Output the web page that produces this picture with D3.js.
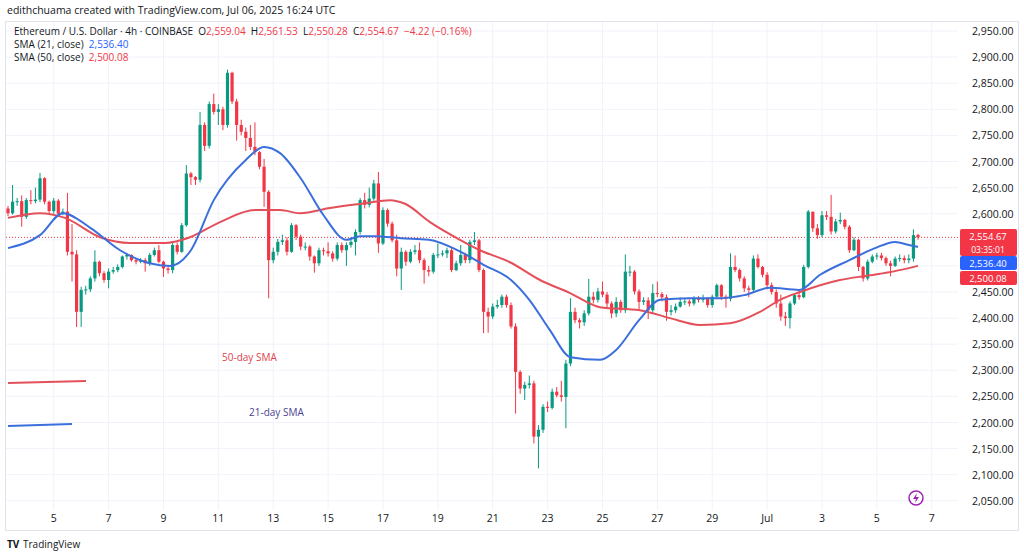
<!DOCTYPE html>
<html><head><meta charset="utf-8">
<script src="https://cdn.jsdelivr.net/npm/d3@7"></script>
<style>body{margin:0;background:#fff}svg{display:block;font-family:"Open Sans",Roboto,sans-serif}</style>
</head><body><svg id="c" width="1024" height="556"></svg>
<script>
const firstOpen = 2610;
const closes = [2601,2623,2624,2594,2626,2624,2627,2668,2623,2605,2625,2600,2604,2527,2522,2412,2454,2455,2476,2508,2486,2473,2489,2492,2498,2518,2521,2511,2508,2511,2505,2521,2530,2508,2495,2492,2540,2527,2578,2677,2670,2665,2770,2730,2810,2795,2800,2770,2870,2815,2770,2757,2745,2728,2718,2690,2642,2511,2527,2546,2549,2527,2578,2556,2537,2537,2518,2505,2530,2528,2524,2514,2540,2530,2540,2546,2565,2626,2617,2629,2658,2543,2607,2581,2549,2495,2527,2508,2527,2530,2511,2492,2489,2521,2522,2524,2530,2492,2505,2521,2511,2546,2549,2492,2412,2403,2422,2425,2441,2425,2384,2297,2265,2272,2275,2173,2186,2230,2228,2259,2252,2249,2313,2412,2396,2392,2409,2441,2435,2451,2445,2428,2409,2431,2415,2489,2489,2451,2431,2434,2415,2448,2446,2440,2412,2415,2422,2431,2432,2428,2438,2435,2438,2425,2441,2463,2441,2437,2498,2492,2476,2457,2454,2514,2498,2483,2463,2450,2428,2403,2400,2428,2444,2440,2498,2604,2572,2559,2597,2594,2566,2585,2588,2575,2530,2550,2498,2476,2508,2518,2520,2515,2505,2500,2514,2515,2511,2514,2559.04,2554.67];
const highs = [2615,2655,2630,2635,2630,2645,2650,2678,2670,2625,2630,2628,2610,2640,2580,2530,2460,2462,2480,2530,2510,2490,2495,2498,2503,2520,2525,2522,2515,2515,2515,2525,2535,2540,2510,2498,2545,2545,2582,2693,2680,2672,2795,2775,2815,2830,2810,2805,2876,2872,2820,2780,2765,2770,2775,2720,2705,2645,2535,2552,2560,2555,2582,2580,2560,2545,2540,2520,2535,2535,2545,2528,2545,2545,2545,2555,2570,2630,2640,2650,2665,2680,2612,2610,2585,2560,2535,2530,2532,2540,2545,2515,2500,2525,2543,2530,2535,2535,2510,2540,2525,2550,2565,2552,2495,2420,2428,2435,2445,2445,2430,2390,2300,2278,2290,2280,2195,2235,2240,2265,2268,2280,2320,2438,2420,2400,2415,2475,2450,2458,2470,2450,2432,2440,2435,2522,2500,2492,2455,2440,2440,2465,2470,2450,2445,2425,2428,2440,2438,2436,2442,2442,2445,2440,2445,2466,2465,2445,2524,2520,2495,2480,2462,2520,2522,2500,2488,2468,2455,2445,2412,2432,2448,2452,2502,2607,2600,2580,2605,2605,2636,2590,2602,2590,2578,2555,2552,2500,2512,2522,2525,2525,2518,2510,2518,2522,2520,2522,2570,2561.53];
const lows = [2595,2598,2615,2575,2590,2618,2620,2622,2618,2600,2600,2595,2597,2520,2470,2383,2383,2445,2450,2470,2480,2468,2457,2485,2488,2495,2512,2508,2503,2505,2489,2500,2518,2505,2479,2485,2486,2522,2525,2575,2655,2655,2660,2720,2725,2790,2770,2760,2765,2810,2740,2750,2720,2722,2712,2685,2613,2438,2505,2520,2540,2520,2525,2550,2530,2530,2510,2487,2500,2520,2518,2508,2510,2525,2500,2535,2520,2560,2610,2612,2625,2525,2540,2575,2545,2480,2454,2500,2505,2522,2505,2466,2480,2485,2515,2518,2515,2488,2490,2500,2505,2505,2540,2488,2371,2372,2398,2418,2420,2420,2380,2217,2255,2243,2265,2160,2112,2180,2220,2225,2248,2240,2189,2308,2390,2380,2385,2405,2428,2430,2440,2420,2400,2402,2410,2410,2480,2445,2415,2425,2398,2410,2440,2432,2395,2405,2410,2420,2425,2422,2424,2430,2430,2420,2420,2438,2435,2420,2432,2488,2470,2450,2440,2450,2495,2478,2455,2445,2420,2395,2385,2380,2425,2435,2438,2495,2565,2552,2555,2588,2560,2562,2580,2570,2525,2528,2490,2470,2472,2505,2512,2510,2500,2480,2498,2508,2505,2505,2508,2550.28];
const sma21Idx = [0,7,12,18,24.5,31,35.4,40,45,52,56,59.5,64,69,74,77,80,86,92,99,104,110,114,118.5,123,129.5,133,138,142.6,149,155.7,161,166.6,173,177.6,184,189.6,194,197,199];
const sma21Val = [2534,2559,2601,2573,2530,2505,2500,2530,2626,2703,2728,2716,2668,2597,2550,2557,2557,2553,2550,2527,2502,2473,2435,2377,2325,2320,2339,2396,2435,2438,2438,2444,2458,2454,2483,2511,2534,2546,2540,2536.4];
const sma50X = [8,40,65,100,130,165,190,220,255,280,300,330,365,390,405,430,460,480,510,540,570,600,640,670,700,730,760,780,800,840,870,895,918];
const sma50Val = [2592,2601,2592,2555,2544,2544,2555,2584,2607,2607,2601,2611,2620,2626,2619,2584,2550,2530,2507,2473,2448,2421,2415,2400,2387,2390,2412,2435,2450,2473,2482,2490,2500.08];
const priceTicks = d3.range(2050, 2951, 50);
const hiddenTicks = [2500, 2550];
const dayLabels = ["5","7","9","11","13","15","17","19","21","23","25","27","29","Jul","3","5","7"];
const dayIdx = dayLabels.map((d,k)=>10+12*k);

const svg = d3.select("#c");
const x = d3.scaleLinear().domain([0,199]).range([8,918]);
const y = d3.scaleLinear().domain([2050,2950]).range([500.8,31]);
const GREEN="#089981", RED="#f23645", BLUE="#3b6fdc", RED2="#e4505a";

svg.append("rect").attr("x",5.5).attr("y",21.5).attr("width",1013).attr("height",509).attr("fill","none").attr("stroke","#e0e3eb");
svg.append("g").selectAll("line").data(priceTicks).join("line")
 .attr("x1",6).attr("x2",958).attr("y1",d=>y(d)).attr("y2",d=>y(d)).attr("stroke","#f0f3fa");
svg.append("g").selectAll("line").data(dayIdx).join("line")
 .attr("x1",d=>x(d)).attr("x2",d=>x(d)).attr("y1",22).attr("y2",510).attr("stroke","#f0f3fa");
svg.append("g").selectAll("text").data(priceTicks.filter(t=>!hiddenTicks.includes(t))).join("text")
 .attr("x",972).attr("y",d=>y(d)+4).attr("font-size",10.5).attr("fill","#131722").text(d=>d3.format(",.2f")(d));
svg.append("g").selectAll("text").data(dayLabels).join("text")
 .attr("x",(d,k)=>x(dayIdx[k])).attr("y",522).attr("text-anchor","middle").attr("font-size",10.5).attr("fill","#131722").text(d=>d);

const last = closes[closes.length-1];
svg.append("line").attr("x1",6).attr("x2",958).attr("y1",y(last)).attr("y2",y(last)).attr("stroke",RED).attr("stroke-dasharray","1,2");

const data = closes.map((c,i)=>({i,o:i?closes[i-1]:firstOpen,c,h:highs[i],l:lows[i]}));
const g = svg.append("g");
g.selectAll("line").data(data).join("line")
 .attr("x1",d=>x(d.i)).attr("x2",d=>x(d.i)).attr("y1",d=>y(d.h)).attr("y2",d=>y(d.l))
 .attr("stroke",d=>d.c>=d.o?GREEN:RED).attr("stroke-width",1);
g.selectAll("rect").data(data).join("rect")
 .attr("x",d=>x(d.i)-1.6).attr("width",3.2)
 .attr("y",d=>y(Math.max(d.o,d.c))).attr("height",d=>Math.max(1,Math.abs(y(d.o)-y(d.c))))
 .attr("fill",d=>d.c>=d.o?GREEN:RED);

const line = d3.line().curve(d3.curveMonotoneX);
svg.append("path").attr("d",line(sma50X.map((v,k)=>[v,y(sma50Val[k])]))).attr("fill","none").attr("stroke",RED2).attr("stroke-width",2);
svg.append("path").attr("d",line(sma21Idx.map((v,k)=>[x(v),y(sma21Val[k])]))).attr("fill","none").attr("stroke",BLUE).attr("stroke-width",2);

svg.append("line").attr("x1",8).attr("x2",86).attr("y1",383).attr("y2",381).attr("stroke",RED2).attr("stroke-width",2);
svg.append("line").attr("x1",8).attr("x2",72).attr("y1",426).attr("y2",424).attr("stroke",BLUE).attr("stroke-width",2);
svg.append("text").attr("x",222).attr("y",361).attr("font-size",10).attr("fill","#e0424b").text("50-day SMA");
svg.append("text").attr("x",249).attr("y",416).attr("font-size",10).attr("fill","#4b3f94").text("21-day SMA");

const tag=(yc,h,col)=>svg.append("rect").attr("x",960).attr("y",yc).attr("width",57).attr("height",h).attr("rx",2).attr("fill",col);
tag(229,27,RED); tag(256,14,"#2962ff"); tag(271,14,RED);
const tagText=(yy,fs,t)=>svg.append("text").attr("x",988).attr("y",yy).attr("text-anchor","middle").attr("font-size",fs).attr("fill","#fff").text(t);
tagText(240,9.5,"2,554.67"); tagText(253,8.5,"03:35:01"); tagText(266.5,9.5,"2,536.40"); tagText(281.5,9.5,"2,500.08");

svg.append("text").attr("x",7).attr("y",14).attr("font-size",10.5).attr("fill","#131722").text("edithchuama created with TradingView.com, Jul 06, 2025 16:24 UTC");
const l1 = svg.append("text").attr("x",14).attr("y",35).attr("font-size",10).attr("fill","#131722");
[["Ethereum / U.S. Dollar · 4h · COINBASE  O","#131722"],["2,559.04","#f23645"],["  H","#131722"],["2,561.53","#f23645"],["  L","#131722"],["2,550.28","#f23645"],["  C","#131722"],["2,554.67","#f23645"],["  −4.22 (−0.16%)","#f23645"]]
 .forEach(([t,c])=>l1.append("tspan").attr("fill",c).text(t));
const l2 = svg.append("text").attr("x",14).attr("y",48).attr("font-size",10).attr("fill","#131722");
l2.append("tspan").text("SMA (21, close)  "); l2.append("tspan").attr("fill","#2962ff").text("2,536.40");
const l3 = svg.append("text").attr("x",14).attr("y",61).attr("font-size",10).attr("fill","#131722");
l3.append("tspan").text("SMA (50, close)  "); l3.append("tspan").attr("fill","#f23645").text("2,500.08");
svg.selectAll("tspan").attr("style","white-space:pre");

svg.append("circle").attr("cx",916).attr("cy",498).attr("r",7).attr("fill","none").attr("stroke","#9c27b0").attr("stroke-width",1.5);
svg.append("path").attr("d","M917,493 L913,499 L916,499 L915,503 L919,497 L916,497 Z").attr("fill","#9c27b0");
svg.append("text").attr("x",7).attr("y",548).attr("font-size",10).attr("font-weight","bold").attr("fill","#131722").text("TV");
svg.append("text").attr("x",23).attr("y",548).attr("font-size",10).attr("fill","#131722").text("TradingView");
</script></body></html>
